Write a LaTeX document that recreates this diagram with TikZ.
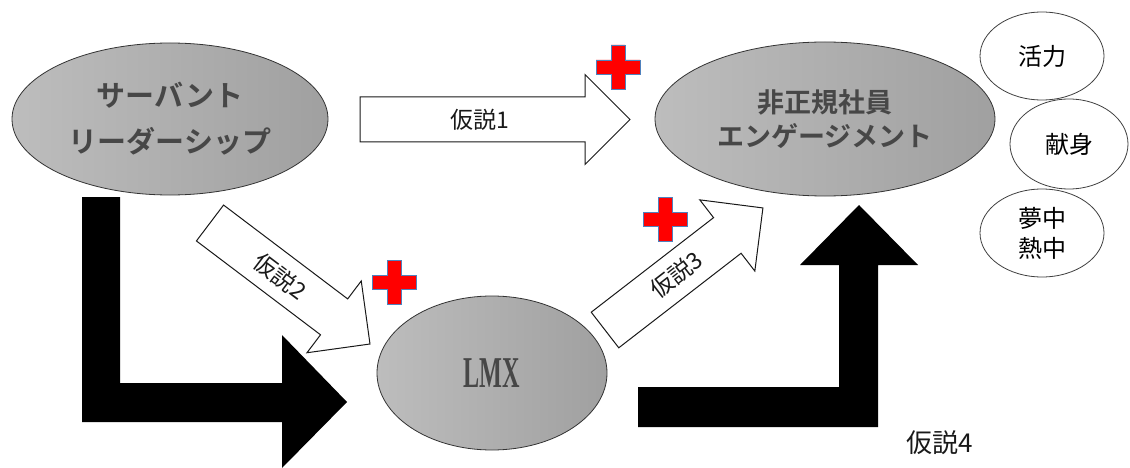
\documentclass[tikz,border=0pt]{standalone}
\usepackage{graphicx}
\usepackage{fontspec}
\setmainfont{Liberation Serif}
\newfontfamily\jp[BoldFont={Noto Sans CJK JP Bold}]{Noto Sans CJK JP}
\usetikzlibrary{shapes.geometric}
\definecolor{ellL}{HTML}{BDBDBD}
\definecolor{ellR}{HTML}{A0A0A0}
\definecolor{etext}{HTML}{474747}
\definecolor{plusred}{HTML}{FF0000}
\definecolor{plusedge}{HTML}{4F81BD}
\tikzset{
  bigell/.style={ellipse, draw=black!80, line width=0.8pt, left color=ellL, right color=ellR,
    inner sep=0pt, text=etext, align=center},
  smallell/.style={ellipse, draw=black!75, line width=0.8pt, fill=white, inner sep=0pt,
    align=center, font=\jp\fontsize{24}{30}\selectfont},
  blockarrow/.style={draw=black!90, line width=1pt, fill=white, line join=miter},
  bararrow/.style={fill=black},
  lbl/.style={font=\jp\fontsize{23}{23}\selectfont, inner sep=0pt, text=black!90},
  plusmark/.style={fill=plusred, draw=plusedge, line width=0.6pt}
}
\newcommand\blockarr[7]{%
  \begin{scope}[shift={(#2,#3)}, rotate=#4]
    \draw[blockarrow] (0,-22.5) -- ({#5-45},-22.5) -- ({#5-45},-45) -- (#5,0)
      -- ({#5-45},45) -- ({#5-45},22.5) -- (0,22.5) -- cycle;
    \node[lbl, rotate=#4] (#1) at (#6,0) {#7};
  \end{scope}}
\newcommand\plusat[2]{%
  \begin{scope}[shift={(#1,#2)}]
    \draw[plusmark] (-7,-22) -- (7,-22) -- (7,-7) -- (22,-7) -- (22,7) -- (7,7) -- (7,22)
      -- (-7,22) -- (-7,7) -- (-22,7) -- (-22,-7) -- (-7,-7) -- cycle;
  \end{scope}}
\begin{document}
\begin{tikzpicture}[x=1pt, y=-1pt]
\fill[white] (0,0) rectangle (1130,468);
\useasboundingbox (0,0) rectangle (1130,468);

% black L-shaped arrows
\fill[bararrow] (82,197) -- (120,197) -- (120,383) -- (282,383) -- (282,335) -- (347,402)
  -- (282,468) -- (282,422) -- (82,422) -- cycle;
\fill[bararrow] (638,387) -- (839,387) -- (839,265) -- (800,265) -- (859,205) -- (918,265)
  -- (878,265) -- (878,427) -- (638,427) -- cycle;

% main ellipses
\node[bigell, minimum width=316, minimum height=152,
  font=\jp\bfseries\fontsize{29}{46}\selectfont] (sl) at (170,119) {サーバント\\リーダーシップ};
\node[bigell, minimum width=340, minimum height=154,
  font=\jp\bfseries\fontsize{27}{34}\selectfont] (eng) at (825,119) {非正規社員\\エンゲージメント};
\node[bigell, minimum width=230, minimum height=154] (lmx) at (492,373)
  {\scalebox{0.55}[1]{\bfseries\fontsize{44}{44}\selectfont LMX}};

% engagement components
\node[smallell, minimum width=124, minimum height=88] (vig) at (1042,56) {活力};
\node[smallell, minimum width=118, minimum height=90] (ded) at (1069,144) {献身};
\node[smallell, minimum width=124, minimum height=88] (abs) at (1042,233) {夢中\\熱中};

% hypothesis block arrows
\blockarr{h1}{360}{119.5}{0}{270}{120}{仮説1}
\blockarr{h2}{210}{223}{-37.1}{200.6}{88}{仮説2}
\blockarr{h3}{605}{330}{37.7}{199.6}{90}{仮説3}

% plus marks
\plusat{618}{67}
\plusat{665}{219}
\plusat{394}{282}

% hypothesis 4 label
\node[lbl, font=\jp\fontsize{26}{26}\selectfont] (h4) at (940,443) {仮説4};
\end{tikzpicture}
\end{document}
